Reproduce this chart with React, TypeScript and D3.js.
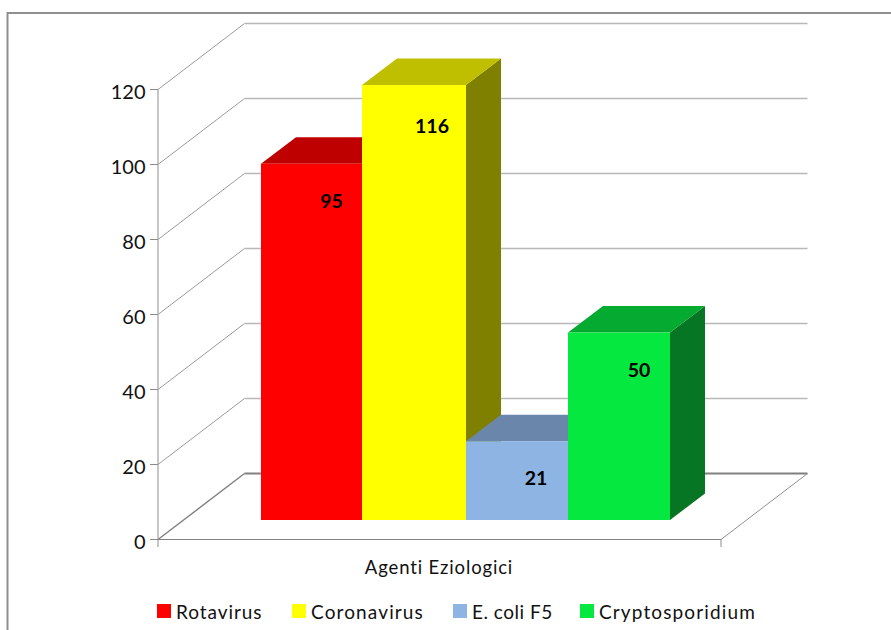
import React from "react";
import * as d3 from "d3";

const categories = ["Rotavirus", "Coronavirus", "E. coli F5", "Cryptosporidium"];
const values = [95, 116, 21, 50];
const frontColors = ["#ff0000", "#ffff00", "#8eb4e3", "#05e840"];
const topColors = ["#bf0000", "#bfbf00", "#6a87ab", "#05aa30"];
const sideColors = ["#7f0000", "#808000", "#475a72", "#067524"];
const yTicks = [0, 20, 40, 60, 80, 100, 120];
const axisTitle = "Agenti Eziologici";
const legendMarkerX = [157, 292, 453, 580];
const legendSpacing = [0.93, 1.13, 0.5, 1.13];
const barLefts = [261, 362, 466, 568];
const barRights = [362, 466, 568, 670];
const labelShiftX = [0, -2, -1, 0];
const labelShiftY = [0, 4, 0, 0];

const W = 891, H = 630;
const FONT = "Lato, 'Open Sans', sans-serif";
const plotLeft = 158, plotRight = 721;
const wallDx = 86.5, wallDy = -66;
const barDx = 35, barDy = -26.5;
const barBase = 520;

const y = d3.scaleLinear().domain([0, 120]).range([539.5, 89.5]);
const xLeft = d3.scaleOrdinal<string, number>().domain(categories).range(barLefts);
const xRight = d3.scaleOrdinal<string, number>().domain(categories).range(barRights);
const h0 = y(0);

export default function App() {
  const line = d3.line();
  return (
    <svg width={W} height={H} viewBox={`0 0 ${W} ${H}`}
      style={{ position: "absolute", left: 0, top: 0, background: "#fff", fontFamily: FONT }}>
      <path d={`M${W},13H7.5V${H}`} fill="none" stroke="#8f8f8f" strokeWidth={2} />

      {yTicks.map((t) => {
        const py = y(t);
        const zero = t === 0;
        return (
          <g key={t}>
            <path d={line([[plotLeft, py], [plotLeft + wallDx, py + wallDy]]) ?? ""} fill="none"
              stroke={zero ? "#808080" : "#9a9a9a"} strokeWidth={zero ? 1.4 : 1} />
            <line x1={plotLeft + wallDx} x2={plotRight + wallDx} y1={py + wallDy} y2={py + wallDy}
              stroke={zero ? "#808080" : "#b8b8b8"} strokeWidth={zero ? 2 : 1.6} />
            <line x1={plotLeft - 8} x2={plotLeft} y1={py} y2={py} stroke="#8a8a8a" strokeWidth={1} />
            <text x={145.5} y={py + 9} textAnchor="end" fontSize={20} fill="#111">{t}</text>
          </g>
        );
      })}
      <line x1={plotLeft} x2={plotLeft} y1={y(120)} y2={547} stroke="#a0a0a0" strokeWidth={1.2} />
      <line x1={plotLeft} x2={plotRight} y1={h0} y2={h0} stroke="#808080" strokeWidth={1.2} />
      <line x1={plotRight} x2={plotRight} y1={h0} y2={547} stroke="#a0a0a0" strokeWidth={1.2} />
      <line x1={plotRight} y1={h0} x2={plotRight + wallDx} y2={h0 + wallDy} stroke="#909090" strokeWidth={1} />

      {categories.map((c, i) => {
        const x0 = xLeft(c);
        const x1 = xRight(c);
        const top = barBase - (h0 - y(values[i]));
        return (
          <g key={c}>
            <polygon points={`${x1},${top} ${x1 + barDx},${top + barDy} ${x1 + barDx},${barBase + barDy} ${x1},${barBase}`} fill={sideColors[i]} />
            <polygon points={`${x0},${top} ${x1},${top} ${x1 + barDx},${top + barDy} ${x0 + barDx},${top + barDy}`} fill={topColors[i]} />
            <rect x={x0} y={top} width={x1 - x0} height={barBase - top} fill={frontColors[i]} />
          </g>
        );
      })}
      {categories.map((c, i) => {
        const top = barBase - (h0 - y(values[i]));
        return (
          <text key={c} x={(xLeft(c) + xRight(c)) / 2 + 20 + labelShiftX[i]} y={top + 44 + labelShiftY[i]}
            textAnchor="middle" fontSize={19.5} fontWeight={700} fill="#000">{values[i]}</text>
        );
      })}

      <text x={439} y={574} textAnchor="middle" fontSize={18.5} letterSpacing={0.85} fill="#111">{axisTitle}</text>

      {categories.map((c, i) => (
        <g key={c}>
          <rect x={legendMarkerX[i]} y={604} width={14} height={14} fill={frontColors[i]} />
          <text x={legendMarkerX[i] + 19} y={619} fontSize={19} letterSpacing={legendSpacing[i]} fill="#111">{c}</text>
        </g>
      ))}
    </svg>
  );
}
